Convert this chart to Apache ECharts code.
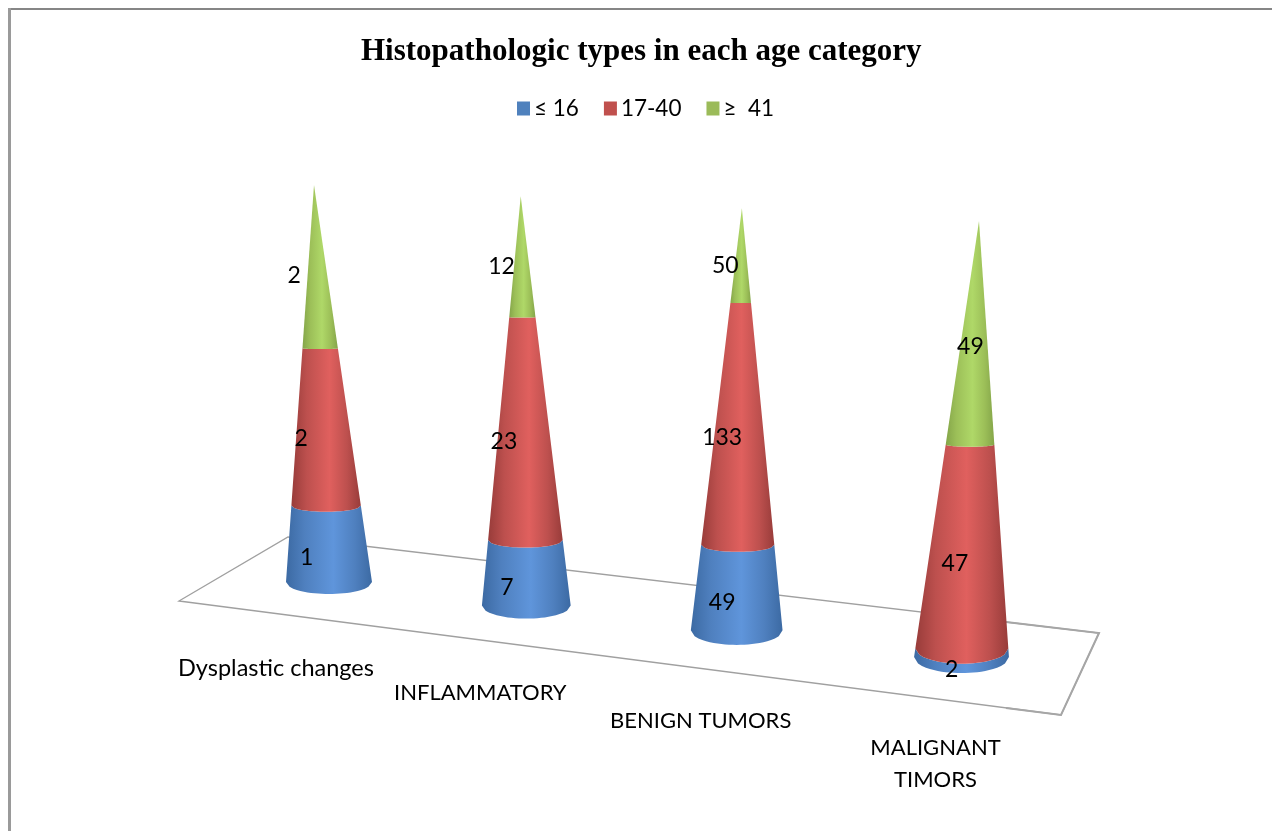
<!DOCTYPE html>
<html>
<head>
<meta charset="utf-8">
<title>Histopathologic types in each age category</title>
<style>
  html, body { margin: 0; padding: 0; background: #fff; }
  #chart { width: 1272px; height: 831px; }
</style>
<script src="https://cdn.jsdelivr.net/npm/echarts@6/dist/echarts.min.js"></script>
</head>
<body>
<div id="chart"></div>
<script>
const categories = ['Dysplastic changes', 'INFLAMMATORY', 'BENIGN TUMORS', 'MALIGNANT\nTIMORS'];
const seriesNames = ['≤ 16', '17-40', '≥  41'];
const young = [1, 7, 49, 2];
const middle = [2, 23, 133, 47];
const older = [2, 12, 50, 49];

// cone shading, one set per series: edge, mid, highlight
const shades = [
    ['#3c6aa3', '#4f80bf', '#5f95db'],
    ['#983c3a', '#bd504e', '#e0605e'],
    ['#84a549', '#9cbf58', '#afd868']
];
const legendColors = ['#4f81bd', '#c0504d', '#9bbb59'];

// where the corners of the (hidden) grid land on screen: the view is in perspective
const corners = { x: [329, 961.5, 979, 314], y: [582, 657, 221, 185] };
const baseRadius = 43;
const baseSag = 12;
// label shift from the middle of a segment, per series and cone
const labelShiftX = [
    [-21, -19, -15, -10],
    [-22, -20, -17, -11],
    [-23, -20, -16, -4]
];
// axis label shift from the base of a cone
const axisLabelShift = [[-53, 86], [-46, 88], [-36, 91], [-26, 107]];
const axisLabelSize = [23.5, 22, 22, 22];

function makeProjection(c) {
    const [x0, x1, x2, x3] = c.x;
    const [y0, y1, y2, y3] = c.y;
    const dx1 = x1 - x2, dx2 = x3 - x2, sx = x0 - x1 + x2 - x3;
    const dy1 = y1 - y2, dy2 = y3 - y2, sy = y0 - y1 + y2 - y3;
    const den = dx1 * dy2 - dx2 * dy1;
    const g = (sx * dy2 - dx2 * sy) / den;
    const h = (dx1 * sy - sx * dy1) / den;
    const a = x1 - x0 + g * x1, b = x3 - x0 + h * x3;
    const d = y1 - y0 + g * y1, e = y3 - y0 + h * y3;
    return function (u, v) {
        const w = 1 + g * u + h * v;
        return { x: (x0 + a * u + b * v) / w, y: (y0 + d * u + e * v) / w, w: w, w0: 1 + g * u };
    };
}
const project = makeProjection(corners);

// grid pixel -> unit square -> screen
function toScreen(api, params, index, pct) {
    const p = api.coord([index, pct]);
    const r = params.coordSys;
    const u = (p[0] - r.x) / r.width;
    const v = (r.y + r.height - p[1]) / r.height;
    return project(u, v);
}

function arc(center, radius, sag, fromLeft) {
    const pts = [];
    const n = 24;
    for (let k = 0; k <= n; k++) {
        const t = fromLeft ? -1 + 2 * k / n : 1 - 2 * k / n;
        pts.push([center.x + radius * t, center.y + sag * Math.sqrt(1 - t * t)]);
    }
    return pts;
}

const totals = categories.map((c, i) => young[i] + middle[i] + older[i]);
const stacks = [young, middle, older];

function segmentData(s) {
    return categories.map((c, i) => {
        let below = 0;
        for (let k = 0; k < s; k++) below += stacks[k][i];
        return [
            i,
            stacks[s][i],
            below / totals[i] * 100,
            (below + stacks[s][i]) / totals[i] * 100
        ];
    });
}

function coneSegment(s) {
    return function (params, api) {
        const i = api.value(0);
        const from = api.value(2), to = api.value(3);
        const a = toScreen(api, params, i, from);
        const b = toScreen(api, params, i, to);
        const ring = (pt, pct) => {
            const f = pct / 100;
            return {
                r: baseRadius / pt.w * (1 - f),
                sag: baseSag / Math.pow(pt.w0, 3) * Math.pow(1 - f, 3)
            };
        };
        const ra = ring(a, from), rb = ring(b, to);
        const points = arc(a, ra.r, ra.sag, true).concat(arc(b, rb.r, rb.sag, false));
        const sh = shades[s];
        const mid = toScreen(api, params, i, (from + to) / 2);
        const midV = (from + to) / 200;
        return {
            type: 'group',
            children: [{
                type: 'polygon',
                shape: { points: points },
                style: {
                    fill: new echarts.graphic.LinearGradient(0, 0, 1, 0, [
                        { offset: 0, color: sh[0] },
                        { offset: 0.22, color: sh[1] },
                        { offset: 0.55, color: sh[2] },
                        { offset: 0.8, color: sh[1] },
                        { offset: 1, color: sh[0] }
                    ])
                }
            }, {
                type: 'text',
                z2: 20,
                style: {
                    text: String(api.value(1)),
                    x: mid.x + labelShiftX[s][i],
                    y: mid.y + 14 - 7 * midV + i,
                    fill: '#000',
                    font: '23px Lato',
                    align: 'center',
                    verticalAlign: 'middle'
                }
            }]
        };
    };
}

const series = seriesNames.map((name, s) => ({
    name: name,
    type: 'custom',
    coordinateSystem: 'cartesian2d',
    itemStyle: { color: legendColors[s] },
    data: segmentData(s),
    renderItem: coneSegment(s),
    silent: true,
    animation: false
}));

series.push({
    name: 'axis labels',
    type: 'custom',
    coordinateSystem: 'cartesian2d',
    data: categories.map((c, i) => [i, 0]),
    silent: true,
    animation: false,
    renderItem: function (params, api) {
        const i = api.value(0);
        const p = toScreen(api, params, i, 0);
        return {
            type: 'text',
            style: {
                text: categories[i],
                x: p.x + axisLabelShift[i][0],
                y: p.y + axisLabelShift[i][1],
                fill: '#000',
                font: axisLabelSize[i] + 'px Lato',
                lineHeight: 32,
                align: 'center',
                verticalAlign: 'middle'
            }
        };
    }
});

const myChart = echarts.init(document.getElementById('chart'), null, { renderer: 'canvas' });
myChart.setOption({
    animation: false,
    backgroundColor: '#fff',
    title: {
        text: 'Histopathologic types in each age category',
        left: 356,
        top: 31,
        textStyle: { fontFamily: 'Liberation Serif', fontWeight: 'bold', fontSize: 31, color: '#000' }
    },
    legend: {
        data: seriesNames,
        left: 512,
        top: 92,
        icon: 'rect',
        itemWidth: 13,
        itemHeight: 14,
        itemGap: 25,
        selectedMode: false,
        textStyle: { fontFamily: 'Lato', fontSize: 22.5, color: '#000', padding: [0, 0, 0, -1] }
    },
    grid: { left: 100, right: 100, top: 100, bottom: 100 },
    xAxis: { type: 'category', data: categories, boundaryGap: false, show: false },
    yAxis: { type: 'value', min: 0, max: 100, show: false },
    series: series,
    graphic: [
        // outer frame, only top and left are in the picture
        { type: 'line', shape: { x1: 8, y1: 9, x2: 1272, y2: 9 }, style: { stroke: '#868686', lineWidth: 2 } },
        { type: 'line', shape: { x1: 9.5, y1: 8, x2: 9.5, y2: 831 }, style: { stroke: '#9a9a9a', lineWidth: 3 } },
        // floor of the 3-D plot
        {
            type: 'polygon',
            shape: { points: [[179, 601], [288, 537], [1099, 633], [1061, 715]] },
            style: { fill: '#fff', stroke: '#a0a0a0', lineWidth: 1.3 }
        },
        {
            type: 'polyline',
            shape: { points: [[1006, 622], [1099, 633], [1061, 715], [1006, 708]] },
            style: { fill: 'none', stroke: '#a6a6a6', lineWidth: 2 }
        }
    ]
});
</script>
</body>
</html>
